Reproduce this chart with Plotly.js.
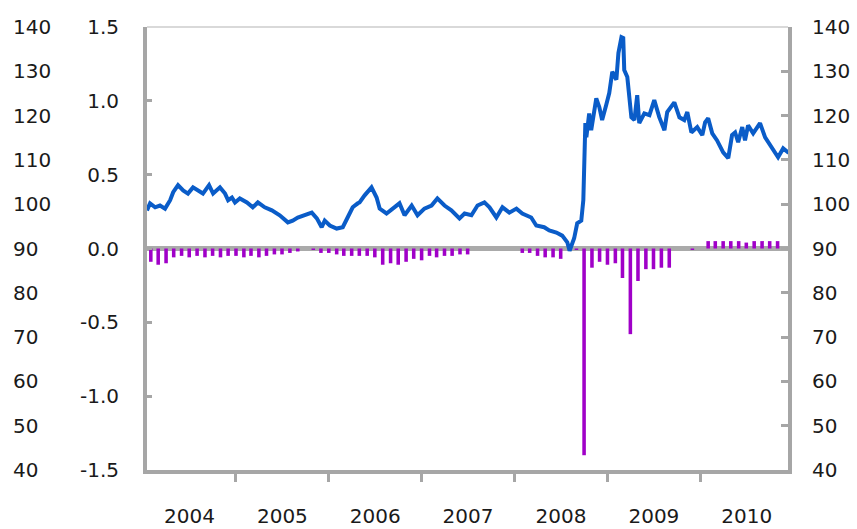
<!DOCTYPE html>
<html><head><meta charset="utf-8">
<script src="https://cdn.plot.ly/plotly-3.0.1.min.js"></script>
<style>html,body{margin:0;padding:0;background:#fff;}#chart{width:857px;height:529px;}</style>
</head><body><div id="chart"></div>
<script>
// Blue line: index level (right / outer-left axis, 40-140)
const lineDates = [
 '2004-01-17','2004-01-29','2004-02-18','2004-03-08','2004-03-28','2004-04-17','2004-04-29','2004-05-18','2004-06-07','2004-06-26',
 '2004-07-16','2004-08-05','2004-08-24','2004-09-17','2004-10-03','2004-10-30','2004-11-19','2004-12-01','2004-12-16','2004-12-28',
 '2005-01-16','2005-02-13','2005-03-08','2005-03-28','2005-04-24','2005-05-22','2005-06-22','2005-07-24','2005-08-12','2005-09-01',
 '2005-09-29','2005-10-26','2005-11-15','2005-12-04','2005-12-16',
 '2006-01-05','2006-02-01','2006-02-25','2006-03-16','2006-04-05','2006-04-25','2006-05-02','2006-05-22','2006-06-18','2006-07-08',
 '2006-07-20','2006-08-16','2006-09-09','2006-10-06','2006-10-26','2006-11-23','2006-12-16',
 '2007-01-12','2007-02-09','2007-03-04','2007-04-01','2007-04-28','2007-05-30','2007-06-19','2007-07-16','2007-08-09','2007-09-05',
 '2007-09-25','2007-10-22','2007-11-15','2007-12-12',
 '2008-01-09','2008-02-01','2008-03-07','2008-03-27','2008-04-27','2008-05-17','2008-06-14','2008-07-07','2008-07-27','2008-08-05',
 '2008-08-15','2008-08-23','2008-09-04','2008-09-20','2008-09-28','2008-10-02','2008-10-06','2008-10-10','2008-10-21','2008-10-29',
 '2008-11-10','2008-11-18','2008-11-30','2008-12-11','2008-12-27',
 '2009-01-08','2009-01-20','2009-02-05','2009-02-13','2009-02-25','2009-03-04','2009-03-08','2009-03-20','2009-04-05','2009-04-17',
 '2009-04-28','2009-05-06','2009-05-26','2009-06-15','2009-07-04','2009-07-24','2009-08-13','2009-08-24','2009-09-21','2009-10-11',
 '2009-10-30','2009-11-11','2009-11-27','2009-12-20',
 '2010-01-09','2010-01-20','2010-02-01','2010-02-17','2010-03-08','2010-04-01','2010-04-21','2010-05-06','2010-05-18','2010-05-30',
 '2010-06-15','2010-06-26','2010-07-08','2010-07-28','2010-08-24','2010-09-13','2010-10-11','2010-11-03','2010-11-23','2010-12-12',
 '2010-12-28'
];
const lineValues = [
 98.6,100.2,99.3,99.7,99.0,100.9,102.7,104.3,103.1,102.4,
 103.8,103.1,102.4,104.3,102.4,103.8,102.4,100.9,101.5,100.4,
 101.3,100.4,99.3,100.4,99.3,98.6,97.5,95.9,96.3,97.0,
 97.5,98.1,96.8,94.8,96.3,
 95.2,94.5,94.8,97.0,99.3,100.2,100.4,102.0,103.8,101.5,
 99.0,97.9,99.0,100.2,97.5,99.7,97.5,
 99.0,99.7,101.3,99.7,98.6,96.8,97.9,97.5,99.7,100.4,
 99.3,97.0,99.3,98.1,
 99.0,97.9,97.0,95.2,94.8,94.1,93.6,92.9,91.4,89.5,
 91.4,92.3,95.7,96.3,100.9,111.5,118.3,115.1,120.5,116.7,
 121.2,123.9,121.9,119.0,122.4,
 125.1,129.9,128.1,134.1,137.7,137.5,130.3,128.7,119.6,119.0,
 124.6,118.3,120.5,120.1,123.5,119.6,116.7,120.8,123.0,119.6,
 119.0,120.8,116.2,117.4,
 115.6,118.5,119.4,116.0,114.4,111.7,110.4,115.6,116.2,114.0,
 117.4,114.4,117.8,116.0,118.3,115.1,112.6,110.6,112.6,111.7,
 111.7
];

// Magenta bars: monthly change (inner left axis, -1.5 to 1.5)
const barDates = [
 '2004-01-01','2004-02-01','2004-03-01','2004-04-01','2004-05-01','2004-06-01','2004-07-01','2004-08-01','2004-09-01','2004-10-01','2004-11-01','2004-12-01',
 '2005-01-01','2005-02-01','2005-03-01','2005-04-01','2005-05-01','2005-06-01','2005-07-01','2005-08-01','2005-09-01','2005-10-01','2005-11-01','2005-12-01',
 '2006-01-01','2006-02-01','2006-03-01','2006-04-01','2006-05-01','2006-06-01','2006-07-01','2006-08-01','2006-09-01','2006-10-01','2006-11-01','2006-12-01',
 '2007-01-01','2007-02-01','2007-03-01','2007-04-01','2007-05-01','2007-06-01','2007-07-01','2007-08-01','2007-09-01','2007-10-01','2007-11-01','2007-12-01',
 '2008-01-01','2008-02-01','2008-03-01','2008-04-01','2008-05-01','2008-06-01','2008-07-01','2008-08-01','2008-09-01','2008-10-01','2008-11-01','2008-12-01',
 '2009-01-01','2009-02-01','2009-03-01','2009-04-01','2009-05-01','2009-06-01','2009-07-01','2009-08-01','2009-09-01','2009-10-01','2009-11-01','2009-12-01',
 '2010-01-01','2010-02-01','2010-03-01','2010-04-01','2010-05-01','2010-06-01','2010-07-01','2010-08-01','2010-09-01','2010-10-01','2010-11-01','2010-12-01'
];
const barValues = [
 -0.05,-0.09,-0.11,-0.10,-0.06,-0.05,-0.06,-0.05,-0.06,-0.05,-0.06,-0.05,
 -0.05,-0.06,-0.05,-0.06,-0.05,-0.04,-0.04,-0.03,-0.02,0,-0.01,-0.03,
 -0.03,-0.04,-0.05,-0.05,-0.05,-0.05,-0.06,-0.11,-0.10,-0.11,-0.09,-0.07,
 -0.08,-0.05,-0.06,-0.05,-0.05,-0.04,-0.04,0,0,0,0,0,
 0,-0.03,-0.03,-0.05,-0.06,-0.06,-0.07,0,-0.01,-1.40,-0.13,-0.09,
 -0.11,-0.10,-0.20,-0.58,-0.22,-0.14,-0.14,-0.13,-0.13,0,0,-0.01,
 0,0.05,0.05,0.05,0.05,0.05,0.04,0.05,0.05,0.05,0.05,0
];

const spreadTickVals = [-1.5,-1.0,-0.5,0,0.5,1.0,1.5];
const spreadTickText = ['-1.5','-1.0','-0.5','0.0','0.5','1.0','1.5'];
const indexTickVals = [40,50,60,70,80,90,100,110,120,130,140];
const indexTickText = ['40','50','60','70','80','90','100','110','120','130','140'];
const xRange = ['2004-01-17','2010-12-12'];

const gray = '#a6a6a6';
const txt = '#1a1a1a';
const fnt = {family:'DejaVu Sans, Arial, sans-serif', size:20, color:txt};

const traces = [
 {type:'bar', x:barDates, y:barValues, xaxis:'x', yaxis:'y', marker:{color:'#a000c8', line:{width:0}}, hoverinfo:'skip'},
 {type:'scatter', mode:'lines', x:lineDates, y:lineValues, xaxis:'x', yaxis:'y2', line:{color:'#0a5cc8', width:4}, hoverinfo:'skip'},
 // same index series bound to the outer-left duplicate scale (kept transparent so only its labels show)
 {type:'scatter', mode:'lines', x:lineDates, y:lineValues, xaxis:'x', yaxis:'y3', opacity:0, line:{width:0}, hoverinfo:'skip'}
];

const dom = [147/857, 788/857];
const layout = {
 width:857, height:529,
 margin:{l:0, r:0, t:27, b:59},
 paper_bgcolor:'#fff', plot_bgcolor:'#fff',
 showlegend:false,
 bargap:0.5,
 font:fnt,
 xaxis:{type:'date', domain:dom, range:xRange, anchor:'y', tick0:'2004-01-01', dtick:'M12', tickformat:'%Y',
  ticklabelmode:'period', ticks:'outside', ticklen:8, tickwidth:3, tickcolor:gray,
  showline:true, linecolor:gray, linewidth:4, showgrid:false, zeroline:false, tickfont:fnt, ticklabelstandoff:17},
 yaxis:{range:[-1.5,1.5], tickvals:spreadTickVals, ticktext:spreadTickText, side:'left', anchor:'x',
  ticks:'inside', ticklen:5, tickwidth:3, tickcolor:gray, showline:true, linecolor:gray, linewidth:4,
  showgrid:false, zeroline:true, zerolinecolor:'#aaaaaa', zerolinewidth:5, tickfont:fnt, ticklabelstandoff:20},
 yaxis2:{range:[40,140], tickvals:indexTickVals, ticktext:indexTickText, side:'right', overlaying:'y', anchor:'x',
  ticks:'inside', ticklen:7, tickwidth:3, tickcolor:gray, showline:true, linecolor:gray, linewidth:4,
  showgrid:false, zeroline:false, tickfont:fnt, ticklabelstandoff:16},
 yaxis3:{range:[40,140], tickvals:indexTickVals, ticktext:indexTickText, side:'right', overlaying:'y', anchor:'free', position:0,
  ticks:'', showline:false, showgrid:false, zeroline:false, tickfont:fnt, ticklabelstandoff:12},
 shapes:[{type:'line', xref:'paper', yref:'paper', x0:dom[0], x1:dom[1], y0:1, y1:1, line:{color:'#d9d9d9', width:2}}]
};

Plotly.newPlot('chart', traces, layout, {staticPlot:true, displayModeBar:false});
</script>
</body></html>
